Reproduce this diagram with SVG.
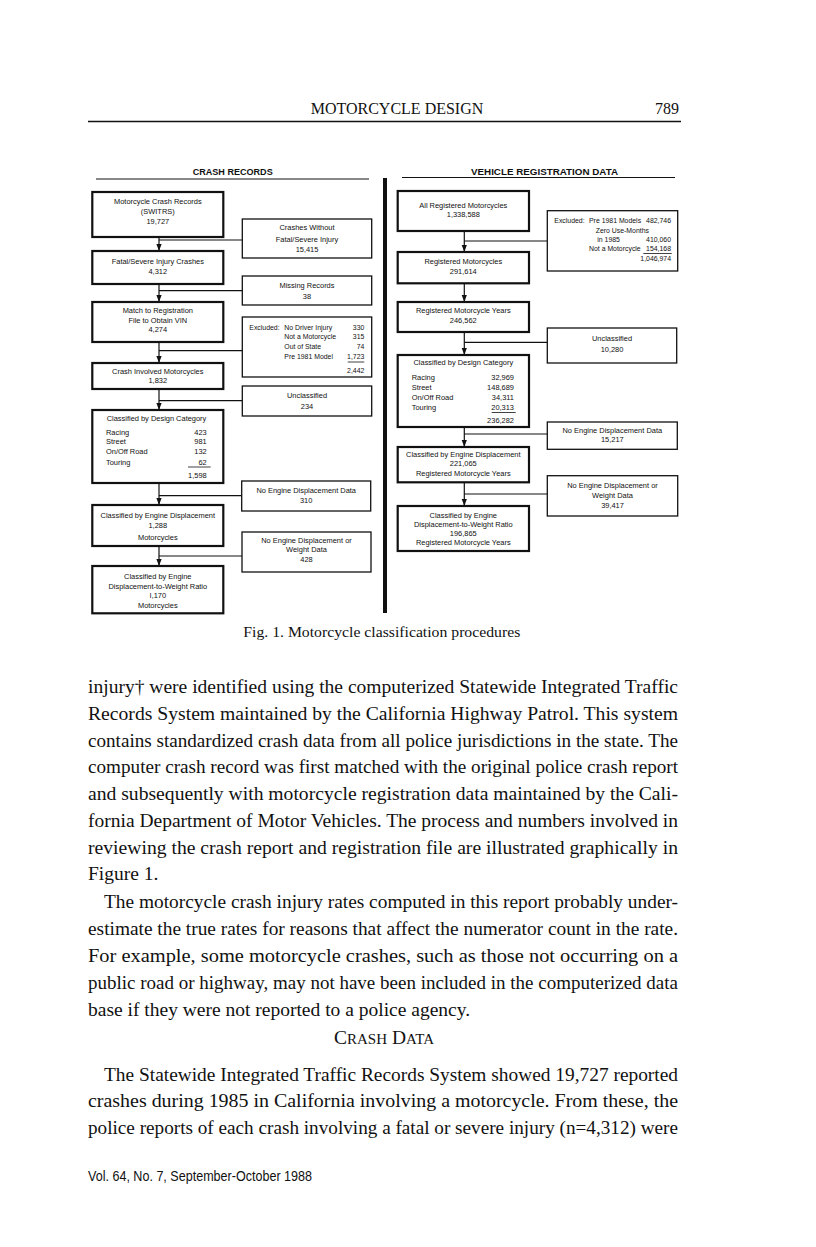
<svg xmlns="http://www.w3.org/2000/svg" width="816" height="1247" viewBox="0 0 816 1247">
<defs>
<style>
.mb{fill:#fff;stroke:#111;stroke-width:2.2}
.sb{fill:#fff;stroke:#111;stroke-width:1.3}
.ln{fill:none;stroke:#111;stroke-width:1.2}
.t{font-family:"Liberation Sans",Arial,sans-serif;font-size:7.45px;fill:#111}
.x{font-family:"Liberation Sans",Arial,sans-serif;font-size:6.9px;fill:#111}
.c{text-anchor:middle}
.e{text-anchor:end}
.hd{font-family:"Liberation Sans",Arial,sans-serif;font-size:8.6px;font-weight:bold;fill:#111;text-anchor:middle}
.body{font-family:"Liberation Serif","Times New Roman",serif;font-size:19.5px;fill:#111}
</style>
<marker id="ah" markerUnits="userSpaceOnUse" markerWidth="8" markerHeight="6" refX="7" refY="2.6" orient="auto">
<path d="M0,0 L7,2.6 L0,5.2 z" fill="#111"/>
</marker>
</defs>
<rect width="816" height="1247" fill="#fff"/>

<g id="page-header">
<text x="397" y="114" class="body" style="font-size:16px" text-anchor="middle">MOTORCYCLE DESIGN</text>
<text x="679" y="114" class="body" style="font-size:16px" text-anchor="end">789</text>
<line x1="88" y1="121.5" x2="681" y2="121.5" stroke="#111" stroke-width="1.5"/>
</g>

<g id="headings">
<text x="232.7" y="174.5" class="hd" textLength="80" lengthAdjust="spacingAndGlyphs">CRASH RECORDS</text>
<line x1="96" y1="179" x2="369" y2="179" stroke="#111" stroke-width="1"/>
<text x="544.5" y="174.5" class="hd" textLength="147" lengthAdjust="spacingAndGlyphs">VEHICLE REGISTRATION DATA</text>
<line x1="402" y1="177.5" x2="675" y2="177.5" stroke="#111" stroke-width="1"/>
<rect id="divider" x="383" y="178" width="4" height="435" fill="#111"/>
</g>

<g id="connectors">
<line class="ln" x1="159" y1="237" x2="159" y2="251" marker-end="url(#ah)"/>
<line class="ln" x1="159" y1="240" x2="242" y2="240"/>
<line class="ln" x1="159" y1="284" x2="159" y2="302" marker-end="url(#ah)"/>
<line class="ln" x1="159" y1="290.7" x2="242" y2="290.7"/>
<line class="ln" x1="159" y1="342" x2="159" y2="363" marker-end="url(#ah)"/>
<line class="ln" x1="159" y1="350.7" x2="242" y2="350.7"/>
<line class="ln" x1="159" y1="389" x2="159" y2="410" marker-end="url(#ah)"/>
<line class="ln" x1="159" y1="400.7" x2="242" y2="400.7"/>
<line class="ln" x1="159" y1="483" x2="159" y2="505" marker-end="url(#ah)"/>
<line class="ln" x1="159" y1="495.7" x2="242" y2="495.7"/>
<line class="ln" x1="159" y1="546" x2="159" y2="566" marker-end="url(#ah)"/>
<line class="ln" x1="159" y1="556" x2="242" y2="556"/>
<line class="ln" x1="464.3" y1="231" x2="464.3" y2="252" marker-end="url(#ah)"/>
<line class="ln" x1="464.3" y1="241" x2="547.3" y2="241"/>
<line class="ln" x1="464.3" y1="283.3" x2="464.3" y2="302" marker-end="url(#ah)"/>
<line class="ln" x1="464.3" y1="332" x2="464.3" y2="355" marker-end="url(#ah)"/>
<line class="ln" x1="464.3" y1="342.3" x2="547.3" y2="342.3"/>
<line class="ln" x1="464.3" y1="427" x2="464.3" y2="447" marker-end="url(#ah)"/>
<line class="ln" x1="464.3" y1="434" x2="547.3" y2="434"/>
<line class="ln" x1="464.3" y1="482.3" x2="464.3" y2="506" marker-end="url(#ah)"/>
<line class="ln" x1="464.3" y1="494" x2="547.3" y2="494"/>
</g>

<g id="L1">
<rect class="mb" x="92.3" y="192" width="131" height="45"/>
<text class="t c" x="157.8" y="204.2">Motorcycle Crash Records</text>
<text class="t c" x="157.8" y="214.2">(SWITRS)</text>
<text class="t c" x="157.8" y="223.5">19,727</text>
</g>
<g id="LS1">
<rect class="sb" x="242.3" y="219" width="129.4" height="39"/>
<text class="t c" x="307" y="230.2">Crashes Without</text>
<text class="t c" x="307" y="241.5">Fatal/Severe Injury</text>
<text class="t c" x="307" y="251.8">15,415</text>
</g>
<g id="L2">
<rect class="mb" x="92.3" y="251" width="131" height="33"/>
<text class="t c" x="157.8" y="264.2">Fatal/Severe Injury Crashes</text>
<text class="t c" x="157.8" y="273.5">4,312</text>
</g>
<g id="LS2">
<rect class="sb" x="242.3" y="276" width="129.4" height="29"/>
<text class="t c" x="307" y="287.8">Missing Records</text>
<text class="t c" x="307" y="298.5">38</text>
</g>
<g id="L3">
<rect class="mb" x="92.3" y="302" width="131" height="40"/>
<text class="t c" x="157.8" y="313.2">Match to Registration</text>
<text class="t c" x="157.8" y="322.5">File to Obtain VIN</text>
<text class="t c" x="157.8" y="331.5">4,274</text>
</g>
<g id="LS3">
<rect class="sb" x="242.3" y="317" width="129.4" height="60"/>
<text class="x" x="249.3" y="329.8">Excluded:</text>
<text class="x" x="284.3" y="329.8">No Driver Injury</text>
<text class="x e" x="364.3" y="329.8">330</text>
<text class="x" x="284.3" y="339.2">Not a Motorcycle</text>
<text class="x e" x="364.3" y="339.2">315</text>
<text class="x" x="284.3" y="349.2">Out of State</text>
<text class="x e" x="364.3" y="349.2">74</text>
<text class="x" x="284.3" y="359.2">Pre 1981 Model</text>
<text class="x e" x="364.3" y="359.2">1,723</text>
<line x1="347.7" y1="362" x2="364.3" y2="362" stroke="#111" stroke-width="0.8"/>
<text class="x e" x="364.3" y="372.8">2,442</text>
</g>
<g id="L4">
<rect class="mb" x="92.3" y="363" width="131" height="26"/>
<text class="t c" x="157.8" y="373.5">Crash Involved Motorcycles</text>
<text class="t c" x="157.8" y="382.5">1,832</text>
</g>
<g id="LS4">
<rect class="sb" x="242.3" y="386" width="129.4" height="30"/>
<text class="t c" x="307" y="398.2">Unclassified</text>
<text class="t c" x="307" y="408.5">234</text>
</g>
<g id="L5">
<rect class="mb" x="92.3" y="410" width="131" height="73"/>
<text class="t c" x="156.5" y="421.2">Classified by Design Category</text>
<text class="t" x="106" y="434.5">Racing</text>
<text class="t e" x="206.7" y="434.5">423</text>
<text class="t" x="106" y="443.8">Street</text>
<text class="t e" x="206.7" y="443.8">981</text>
<text class="t" x="106" y="454.2">On/Off Road</text>
<text class="t e" x="206.7" y="454.2">132</text>
<text class="t" x="106" y="464.5">Touring</text>
<text class="t e" x="206.7" y="464.5">62</text>
<line x1="188" y1="467" x2="210.7" y2="467" stroke="#111" stroke-width="0.8"/>
<text class="t e" x="206.7" y="477.5">1,598</text>
</g>
<g id="LS5">
<rect class="sb" x="241.7" y="481" width="129" height="30"/>
<text class="t c" x="306.2" y="493.2">No Engine Displacement Data</text>
<text class="t c" x="306.2" y="503.2">310</text>
</g>
<g id="L6">
<rect class="mb" x="92.3" y="505" width="131" height="41"/>
<text class="t c" x="157.8" y="517.5">Classified by Engine Displacement</text>
<text class="t c" x="157.8" y="528.2">1,288</text>
<text class="t c" x="157.8" y="539.5">Motorcycles</text>
</g>
<g id="LS6">
<rect class="sb" x="242" y="532" width="129" height="40"/>
<text class="t c" x="306.5" y="543.2">No Engine Displacement or</text>
<text class="t c" x="306.5" y="552.2">Weight Data</text>
<text class="t c" x="306.5" y="561.5">428</text>
</g>
<g id="L7">
<rect class="mb" x="92.3" y="566" width="131" height="47.3"/>
<text class="t c" x="157.8" y="578.5">Classified by Engine</text>
<text class="t c" x="157.8" y="589.2">Displacement-to-Weight Ratio</text>
<text class="t c" x="157.8" y="598.2">I,170</text>
<text class="t c" x="157.8" y="607.5">Motorcycles</text>
</g>

<g id="R1">
<rect class="mb" x="397.7" y="191" width="131.3" height="40"/>
<text class="t c" x="463.3" y="207.5">All Registered Motorcycles</text>
<text class="t c" x="463.3" y="216.5">1,338,588</text>
</g>
<g id="RS1">
<rect class="sb" x="547.3" y="210.7" width="130.4" height="60.3"/>
<text class="x" x="554.3" y="223.2">Excluded:</text>
<text class="x" x="589" y="223.2">Pre 1981 Models</text>
<text class="x e" x="671" y="223.2">482,746</text>
<text class="x" x="595.7" y="233.2">Zero Use-Months</text>
<text class="x" x="597.3" y="241.5">in 1985</text>
<text class="x e" x="671" y="241.5">410,060</text>
<text class="x" x="589" y="251.2">Not a Motorcycle</text>
<text class="x e" x="671" y="251.2">154,168</text>
<line x1="643.3" y1="253.5" x2="671.7" y2="253.5" stroke="#111" stroke-width="0.8"/>
<text class="x e" x="671" y="261">1,046,974</text>
</g>
<g id="R2">
<rect class="mb" x="397.7" y="252" width="131.3" height="31.3"/>
<text class="t c" x="463.3" y="264.2">Registered Motorcycles</text>
<text class="t c" x="463.3" y="273.5">291,614</text>
</g>
<g id="R3">
<rect class="mb" x="397.7" y="302" width="131.3" height="30"/>
<text class="t c" x="463.3" y="313.2">Registered Motorcycle Years</text>
<text class="t c" x="463.3" y="322.5">246,562</text>
</g>
<g id="RS2">
<rect class="sb" x="547.3" y="328" width="129.4" height="35"/>
<text class="t c" x="612" y="340.8">Unclassified</text>
<text class="t c" x="612" y="351.5">10,280</text>
</g>
<g id="R4">
<rect class="mb" x="397.7" y="355" width="131.3" height="72"/>
<text class="t c" x="463.3" y="365.2">Classified by Design Category</text>
<text class="t" x="411.7" y="379.8">Racing</text>
<text class="t e" x="514" y="379.8">32,969</text>
<text class="t" x="411.7" y="389.8">Street</text>
<text class="t e" x="514" y="389.8">148,689</text>
<text class="t" x="411.7" y="399.8">On/Off Road</text>
<text class="t e" x="514" y="399.8">34,311</text>
<text class="t" x="411.7" y="409.8">Touring</text>
<text class="t e" x="514" y="409.8">20,313</text>
<line x1="491.7" y1="412.5" x2="515.7" y2="412.5" stroke="#111" stroke-width="0.8"/>
<text class="t e" x="514" y="422.5">236,282</text>
</g>
<g id="RS3">
<rect class="sb" x="547.3" y="422" width="130" height="27.3"/>
<text class="t c" x="612.3" y="432.5">No Engine Displacement Data</text>
<text class="t c" x="612.3" y="441.5">15,217</text>
</g>
<g id="R5">
<rect class="mb" x="397.7" y="447" width="131.3" height="35.3"/>
<text class="t c" x="463.3" y="456.5">Classified by Engine Displacement</text>
<text class="t c" x="463.3" y="465.8">221,065</text>
<text class="t c" x="463.3" y="475.8">Registered Motorcycle Years</text>
</g>
<g id="RS4">
<rect class="sb" x="547.3" y="475.7" width="130.4" height="40.3"/>
<text class="t c" x="612.5" y="487.5">No Engine Displacement or</text>
<text class="t c" x="612.5" y="497.5">Weight Data</text>
<text class="t c" x="612.5" y="507.5">39,417</text>
</g>
<g id="R6">
<rect class="mb" x="397.7" y="506" width="131.3" height="45"/>
<text class="t c" x="463.3" y="517.5">Classified by Engine</text>
<text class="t c" x="463.3" y="526.5">Displacement-to-Weight Ratio</text>
<text class="t c" x="463.3" y="535.8">196,865</text>
<text class="t c" x="463.3" y="545.2">Registered Motorcycle Years</text>
</g>

<g id="caption">
<text class="body" style="font-size:15.5px" x="243.3" y="637" textLength="277" lengthAdjust="spacingAndGlyphs">Fig. 1.  Motorcycle classification procedures</text>
</g>

<g id="body-text" class="body">
<text x="88" y="693" textLength="590" lengthAdjust="spacingAndGlyphs">injury† were identified using the computerized Statewide Integrated Traffic</text>
<text x="88" y="720" textLength="590" lengthAdjust="spacingAndGlyphs">Records System maintained by the California Highway Patrol. This system</text>
<text x="88" y="747" textLength="590" lengthAdjust="spacingAndGlyphs">contains standardized crash data from all police jurisdictions in the state. The</text>
<text x="88" y="773" textLength="590" lengthAdjust="spacingAndGlyphs">computer crash record was first matched with the original police crash report</text>
<text x="88" y="800" textLength="590" lengthAdjust="spacingAndGlyphs">and subsequently with motorcycle registration data maintained by the Cali-</text>
<text x="88" y="827" textLength="590" lengthAdjust="spacingAndGlyphs">fornia Department of Motor Vehicles. The process and numbers involved in</text>
<text x="88" y="854" textLength="590" lengthAdjust="spacingAndGlyphs">reviewing the crash report and registration file are illustrated graphically in</text>
<text x="88" y="880">Figure 1.</text>
<text x="104" y="908" textLength="574" lengthAdjust="spacingAndGlyphs">The motorcycle crash injury rates computed in this report probably under-</text>
<text x="88" y="935" textLength="590" lengthAdjust="spacingAndGlyphs">estimate the true rates for reasons that affect the numerator count in the rate.</text>
<text x="88" y="962" textLength="590" lengthAdjust="spacingAndGlyphs">For example, some motorcycle crashes, such as those not occurring on a</text>
<text x="88" y="989" textLength="590" lengthAdjust="spacingAndGlyphs">public road or highway, may not have been included in the computerized data</text>
<text x="88" y="1016">base if they were not reported to a police agency.</text>
<text x="384" y="1044" text-anchor="middle">C<tspan style="font-size:15px">RASH</tspan> D<tspan style="font-size:15px">ATA</tspan></text>
<text x="104" y="1081" textLength="574" lengthAdjust="spacingAndGlyphs">The Statewide Integrated Traffic Records System showed 19,727 reported</text>
<text x="88" y="1107" textLength="590" lengthAdjust="spacingAndGlyphs">crashes during 1985 in California involving a motorcycle. From these, the</text>
<text x="88" y="1134" textLength="590" lengthAdjust="spacingAndGlyphs">police reports of each crash involving a fatal or severe injury (n=4,312) were</text>
</g>

<g id="footer">
<text x="88" y="1181" style="font-family:'Liberation Sans',Arial,sans-serif;font-size:14.5px;fill:#111" textLength="224" lengthAdjust="spacingAndGlyphs">Vol. 64, No. 7, September-October 1988</text>
</g>
</svg>
